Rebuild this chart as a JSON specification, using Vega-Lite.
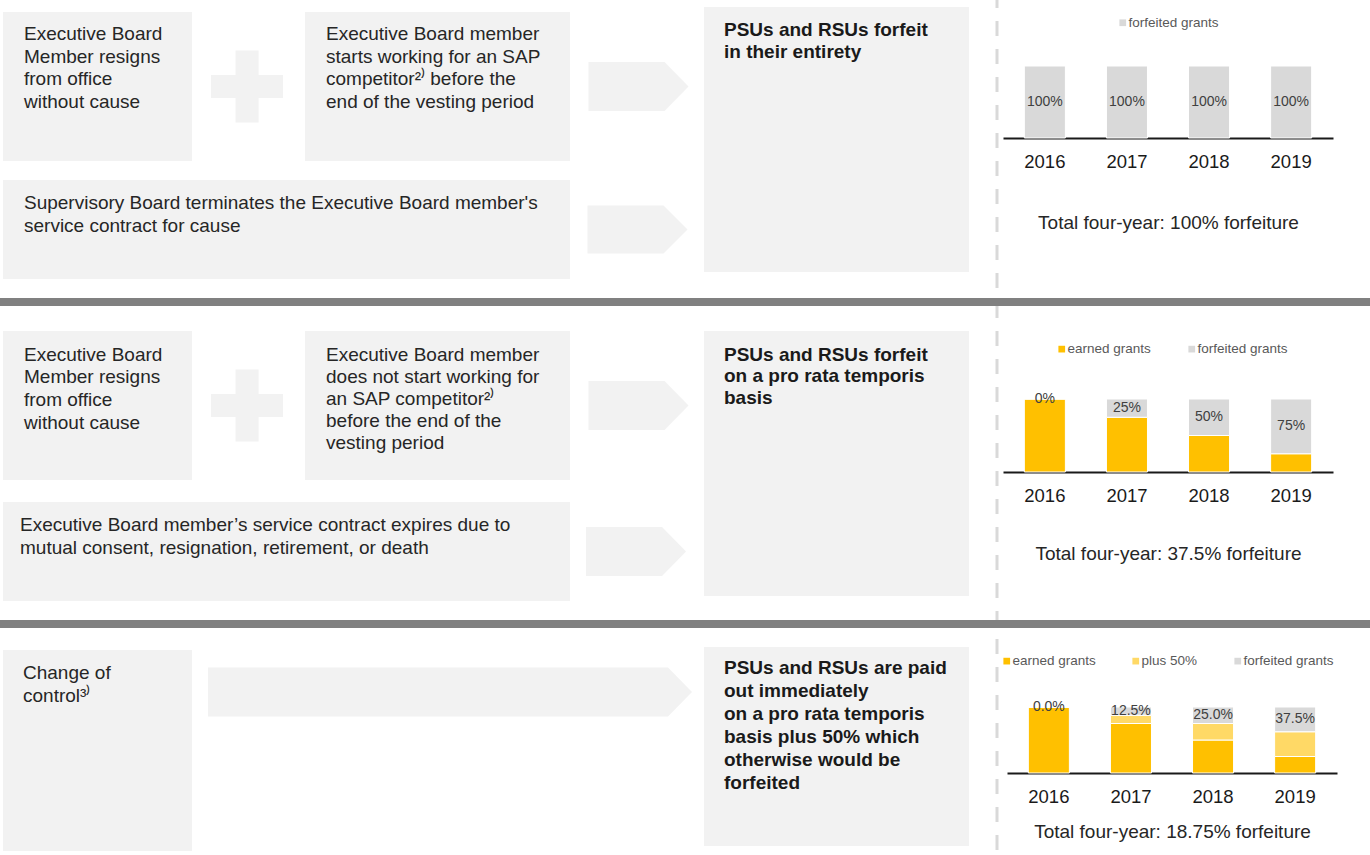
{
"$schema": "https://vega.github.io/schema/vega-lite/v6.json",
"padding": 0,
"background": "white",
"config": {"font": "Liberation Sans", "view": {"stroke": null}},
"resolve": {"scale": {"color": "independent"}, "legend": {"color": "independent"}},
"spacing": 0,
"vconcat": [
 {"hconcat": [
   {"width": 3, "height": 1, "data": {"values": [{}]}, "mark": {"type": "point", "opacity": 0, "size": 0, "strokeWidth": 0}},
   {"vconcat": [
     {"width": 1, "height": 12, "data": {"values": [{}]}, "mark": {"type": "point", "opacity": 0, "size": 0, "strokeWidth": 0}},
     {"hconcat": [
       {"width": 189, "height": 149, "view": {"fill": "#f2f2f2", "stroke": null}, "data": {"values": [{"label": "Executive Board\nMember resigns\nfrom office\nwithout cause"}]}, "mark": {"type": "text", "align": "left", "baseline": "top", "x": 21, "y": 13, "fontSize": 19, "lineHeight": 22.7, "lineBreak": "\n", "color": "#262626"}, "encoding": {"text": {"field": "label"}}},
       {"width": 113, "height": 149, "data": {"values": [{}]}, "mark": {"type": "point", "shape": "M-0.36,-1L0.28,-1L0.28,-0.32L0.96,-0.32L0.96,0.32L0.28,0.32L0.28,1L-0.36,1L-0.36,0.32L-1.04,0.32L-1.04,-0.32L-0.36,-0.32Z", "size": 5184, "filled": true, "color": "#f2f2f2", "opacity": 1, "strokeWidth": 0}},
       {"width": 265, "height": 149, "view": {"fill": "#f2f2f2", "stroke": null}, "data": {"values": [{"label": "Executive Board member\nstarts working for an SAP\ncompetitor\u00b2\u207e before the\nend of the vesting period"}]}, "mark": {"type": "text", "align": "left", "baseline": "top", "x": 21, "y": 13, "fontSize": 19, "lineHeight": 22.7, "lineBreak": "\n", "color": "#262626"}, "encoding": {"text": {"field": "label"}}},
       {"width": 134, "height": 149, "data": {"values": [{}]}, "mark": {"type": "point", "shape": "M-0.97,-0.49L0.55,-0.49L1.03,0L0.55,0.49L-0.97,0.49Z", "size": 10000, "filled": true, "color": "#f2f2f2", "opacity": 1, "strokeWidth": 0}}
     ], "spacing": 0},
     {"width": 1, "height": 19, "data": {"values": [{}]}, "mark": {"type": "point", "opacity": 0, "size": 0, "strokeWidth": 0}},
     {"hconcat": [
       {"width": 567, "height": 99, "view": {"fill": "#f2f2f2", "stroke": null}, "data": {"values": [{"label": "Supervisory Board terminates the Executive Board member's\nservice contract for cause"}]}, "mark": {"type": "text", "align": "left", "baseline": "top", "x": 21, "y": 14, "fontSize": 19, "lineHeight": 22.7, "lineBreak": "\n", "color": "#262626"}, "encoding": {"text": {"field": "label"}}},
       {"width": 134, "height": 99, "data": {"values": [{}]}, "mark": {"type": "point", "shape": "M-0.99,-0.48L0.53,-0.48L1.01,0L0.53,0.48L-0.99,0.48Z", "size": 10000, "filled": true, "color": "#f2f2f2", "opacity": 1, "strokeWidth": 0}}
     ], "spacing": 0}
   ], "spacing": 0},
   {"vconcat": [
     {"width": 1, "height": 7, "data": {"values": [{}]}, "mark": {"type": "point", "opacity": 0, "size": 0, "strokeWidth": 0}},
     {"width": 265, "height": 265, "view": {"fill": "#f2f2f2", "stroke": null}, "data": {"values": [{"label": "PSUs and RSUs forfeit\nin their entirety"}]}, "mark": {"type": "text", "align": "left", "baseline": "top", "x": 20, "y": 13.5, "fontSize": 19, "fontWeight": "bold", "lineHeight": 22, "lineBreak": "\n", "color": "#1a1a1a"}, "encoding": {"text": {"field": "label"}}}
   ], "spacing": 0},
   {"width": 25, "height": 1, "data": {"values": [{}]}, "mark": {"type": "point", "opacity": 0, "size": 0, "strokeWidth": 0}},
   {"hconcat": [
     {"width": 6, "height": 298, "data": {"values": [{}]}, "mark": {"type": "rule", "color": "#d9d9d9", "strokeWidth": 3, "strokeDash": [15, 13], "strokeDashOffset": 7, "clip": true}, "encoding": {"x": {"datum": 0.5, "type": "quantitative", "scale": {"domain": [0, 1]}, "axis": null}}},
     {"vconcat": [
       {"width": 1, "height": 66, "data": {"values": [{}]}, "mark": {"type": "point", "opacity": 0, "size": 0, "strokeWidth": 0}},
       {"width": 330, "height": 72,
        "data": {"values": [
          {"year": "2016", "grant": "forfeited grants", "share": 1, "o": 3},
          {"year": "2017", "grant": "forfeited grants", "share": 1, "o": 3},
          {"year": "2018", "grant": "forfeited grants", "share": 1, "o": 3},
          {"year": "2019", "grant": "forfeited grants", "share": 1, "o": 3}
        ]},
        "encoding": {"x": {"field": "year", "type": "ordinal", "title": "Total four-year: 100% forfeiture", "scale": {"paddingInner": 0.5, "paddingOuter": 0.26}, "axis": {"labelAngle": 0, "ticks": false, "tickSize": 0, "domainColor": "#1a1a1a", "domainWidth": 2, "labelPadding": 14.5, "labelFontSize": 18.5, "labelColor": "#1a1a1a", "titleFontSize": 19, "titleFontWeight": "normal", "titleColor": "#262626", "titlePadding": 42, "grid": false}}},
        "layer": [
          {"mark": {"type": "bar", "stroke": "#ffffff", "strokeWidth": 1},
           "encoding": {
             "y": {"field": "share", "type": "quantitative", "stack": "zero", "scale": {"domain": [0, 1]}, "axis": null},
             "color": {"field": "grant", "type": "nominal", "scale": {"domain": ["forfeited grants"], "range": ["#d9d9d9"]}, "legend": {"orient": "none", "legendX": 113, "legendY": -50, "direction": "horizontal", "title": null, "symbolType": "square", "symbolSize": 45, "symbolStrokeWidth": 0, "labelFontSize": 13.5, "labelColor": "#595959", "labelOffset": -1, "columnPadding": 34, "padding": 0}},
             "order": {"field": "o", "type": "quantitative"}
           }},
          {"transform": [{"filter": "datum.grant === 'forfeited grants'"}],
           "mark": {"type": "text", "fontSize": 14, "color": "#404040"},
           "encoding": {
             "y": {"field": "share", "type": "quantitative", "scale": {"domain": [0, 2], "reverse": true}, "axis": null},
             "text": {"field": "share", "type": "quantitative", "format": ".0%"}
           }}
        ],
        "resolve": {"scale": {"y": "independent"}}
       }
     ], "spacing": 0, "bounds": "flush", "resolve": {"scale": {"color": "independent"}, "legend": {"color": "independent"}}}
   ], "spacing": 3, "resolve": {"scale": {"color": "independent"}, "legend": {"color": "independent"}}}
 ], "spacing": 0, "resolve": {"scale": {"color": "independent"}, "legend": {"color": "independent"}}},
 {"width": 1370, "height": 8, "view": {"fill": "#808080", "stroke": null}, "data": {"values": [{}]}, "mark": {"type": "point", "opacity": 0, "size": 0, "strokeWidth": 0}},
 {"hconcat": [
   {"width": 3, "height": 1, "data": {"values": [{}]}, "mark": {"type": "point", "opacity": 0, "size": 0, "strokeWidth": 0}},
   {"vconcat": [
     {"width": 1, "height": 25, "data": {"values": [{}]}, "mark": {"type": "point", "opacity": 0, "size": 0, "strokeWidth": 0}},
     {"hconcat": [
       {"width": 189, "height": 149, "view": {"fill": "#f2f2f2", "stroke": null}, "data": {"values": [{"label": "Executive Board\nMember resigns\nfrom office\nwithout cause"}]}, "mark": {"type": "text", "align": "left", "baseline": "top", "x": 21, "y": 14.5, "fontSize": 19, "lineHeight": 22.7, "lineBreak": "\n", "color": "#262626"}, "encoding": {"text": {"field": "label"}}},
       {"width": 113, "height": 149, "data": {"values": [{}]}, "mark": {"type": "point", "shape": "M-0.36,-1L0.28,-1L0.28,-0.32L0.96,-0.32L0.96,0.32L0.28,0.32L0.28,1L-0.36,1L-0.36,0.32L-1.04,0.32L-1.04,-0.32L-0.36,-0.32Z", "size": 5184, "filled": true, "color": "#f2f2f2", "opacity": 1, "strokeWidth": 0}},
       {"width": 265, "height": 149, "view": {"fill": "#f2f2f2", "stroke": null}, "data": {"values": [{"label": "Executive Board member\ndoes not start working for\nan SAP competitor\u00b2\u207e\nbefore the end of the\nvesting period"}]}, "mark": {"type": "text", "align": "left", "baseline": "top", "x": 21, "y": 14.5, "fontSize": 19, "lineHeight": 22, "lineBreak": "\n", "color": "#262626"}, "encoding": {"text": {"field": "label"}}},
       {"width": 134, "height": 149, "data": {"values": [{}]}, "mark": {"type": "point", "shape": "M-0.97,-0.49L0.55,-0.49L1.03,0L0.55,0.49L-0.97,0.49Z", "size": 10000, "filled": true, "color": "#f2f2f2", "opacity": 1, "strokeWidth": 0}}
     ], "spacing": 0},
     {"width": 1, "height": 22, "data": {"values": [{}]}, "mark": {"type": "point", "opacity": 0, "size": 0, "strokeWidth": 0}},
     {"hconcat": [
       {"width": 567, "height": 99, "view": {"fill": "#f2f2f2", "stroke": null}, "data": {"values": [{"label": "Executive Board member\u2019s service contract expires due to\nmutual consent, resignation, retirement, or death"}]}, "mark": {"type": "text", "align": "left", "baseline": "top", "x": 17, "y": 13.5, "fontSize": 19, "lineHeight": 23, "lineBreak": "\n", "color": "#262626"}, "encoding": {"text": {"field": "label"}}},
       {"width": 134, "height": 99, "data": {"values": [{}]}, "mark": {"type": "point", "shape": "M-1.02,-0.49L0.5,-0.49L0.98,0L0.5,0.49L-1.02,0.49Z", "size": 10000, "filled": true, "color": "#f2f2f2", "opacity": 1, "strokeWidth": 0}}
     ], "spacing": 0}
   ], "spacing": 0},
   {"vconcat": [
     {"width": 1, "height": 25, "data": {"values": [{}]}, "mark": {"type": "point", "opacity": 0, "size": 0, "strokeWidth": 0}},
     {"width": 265, "height": 265, "view": {"fill": "#f2f2f2", "stroke": null}, "data": {"values": [{"label": "PSUs and RSUs forfeit\non a pro rata temporis\nbasis"}]}, "mark": {"type": "text", "align": "left", "baseline": "top", "x": 20, "y": 14.5, "fontSize": 19, "fontWeight": "bold", "lineHeight": 21.5, "lineBreak": "\n", "color": "#1a1a1a"}, "encoding": {"text": {"field": "label"}}}
   ], "spacing": 0},
   {"width": 25, "height": 1, "data": {"values": [{}]}, "mark": {"type": "point", "opacity": 0, "size": 0, "strokeWidth": 0}},
   {"hconcat": [
     {"width": 6, "height": 314, "data": {"values": [{}]}, "mark": {"type": "rule", "color": "#d9d9d9", "strokeWidth": 3, "strokeDash": [15, 13], "strokeDashOffset": 3, "clip": true}, "encoding": {"x": {"datum": 0.5, "type": "quantitative", "scale": {"domain": [0, 1]}, "axis": null}}},
     {"vconcat": [
       {"width": 1, "height": 93, "data": {"values": [{}]}, "mark": {"type": "point", "opacity": 0, "size": 0, "strokeWidth": 0}},
       {"width": 330, "height": 73,
        "data": {"values": [
          {"year": "2016", "grant": "earned grants", "share": 1, "o": 1},
          {"year": "2016", "grant": "forfeited grants", "share": 0, "o": 3},
          {"year": "2017", "grant": "earned grants", "share": 0.75, "o": 1},
          {"year": "2017", "grant": "forfeited grants", "share": 0.25, "o": 3},
          {"year": "2018", "grant": "earned grants", "share": 0.5, "o": 1},
          {"year": "2018", "grant": "forfeited grants", "share": 0.5, "o": 3},
          {"year": "2019", "grant": "earned grants", "share": 0.25, "o": 1},
          {"year": "2019", "grant": "forfeited grants", "share": 0.75, "o": 3}
        ]},
        "encoding": {"x": {"field": "year", "type": "ordinal", "title": "Total four-year: 37.5% forfeiture", "scale": {"paddingInner": 0.5, "paddingOuter": 0.26}, "axis": {"labelAngle": 0, "ticks": false, "tickSize": 0, "domainColor": "#1a1a1a", "domainWidth": 2, "labelPadding": 14.5, "labelFontSize": 18.5, "labelColor": "#1a1a1a", "titleFontSize": 19, "titleFontWeight": "normal", "titleColor": "#262626", "titlePadding": 39.5, "grid": false}}},
        "layer": [
          {"mark": {"type": "bar", "stroke": "#ffffff", "strokeWidth": 1},
           "encoding": {
             "y": {"field": "share", "type": "quantitative", "stack": "zero", "scale": {"domain": [0, 1]}, "axis": null},
             "color": {"field": "grant", "type": "nominal", "scale": {"domain": ["earned grants", "forfeited grants"], "range": ["#ffc000", "#d9d9d9"]}, "legend": {"orient": "none", "legendX": 52, "legendY": -57, "direction": "horizontal", "title": null, "symbolType": "square", "symbolSize": 45, "symbolStrokeWidth": 0, "labelFontSize": 13.5, "labelColor": "#595959", "labelOffset": -1, "columnPadding": 34, "padding": 0}},
             "order": {"field": "o", "type": "quantitative"}
           }},
          {"transform": [{"filter": "datum.grant === 'forfeited grants'"}],
           "mark": {"type": "text", "fontSize": 14, "color": "#404040"},
           "encoding": {
             "y": {"field": "share", "type": "quantitative", "scale": {"domain": [0, 2], "reverse": true}, "axis": null},
             "text": {"field": "share", "type": "quantitative", "format": ".0%"}
           }}
        ],
        "resolve": {"scale": {"y": "independent"}}
       }
     ], "spacing": 0, "bounds": "flush", "resolve": {"scale": {"color": "independent"}, "legend": {"color": "independent"}}}
   ], "spacing": 3, "resolve": {"scale": {"color": "independent"}, "legend": {"color": "independent"}}}
 ], "spacing": 0, "resolve": {"scale": {"color": "independent"}, "legend": {"color": "independent"}}},
 {"width": 1370, "height": 8, "view": {"fill": "#808080", "stroke": null}, "data": {"values": [{}]}, "mark": {"type": "point", "opacity": 0, "size": 0, "strokeWidth": 0}},
 {"hconcat": [
   {"width": 3, "height": 1, "data": {"values": [{}]}, "mark": {"type": "point", "opacity": 0, "size": 0, "strokeWidth": 0}},
   {"vconcat": [
     {"width": 1, "height": 22, "data": {"values": [{}]}, "mark": {"type": "point", "opacity": 0, "size": 0, "strokeWidth": 0}},
     {"width": 189, "height": 201, "view": {"fill": "#f2f2f2", "stroke": null}, "data": {"values": [{"label": "Change of\ncontrol\u00b3\u207e"}]}, "mark": {"type": "text", "align": "left", "baseline": "top", "x": 20, "y": 14, "fontSize": 19, "lineHeight": 23, "lineBreak": "\n", "color": "#262626"}, "encoding": {"text": {"field": "label"}}}
   ], "spacing": 0},
   {"width": 512, "height": 128, "data": {"values": [{}]}, "mark": {"type": "point", "shape": "M-0.96,-0.098L0.88,-0.098L0.976,0L0.88,0.098L-0.96,0.098Z", "size": 250000, "filled": true, "color": "#f2f2f2", "opacity": 1, "strokeWidth": 0}},
   {"vconcat": [
     {"width": 1, "height": 19, "data": {"values": [{}]}, "mark": {"type": "point", "opacity": 0, "size": 0, "strokeWidth": 0}},
     {"width": 265, "height": 199, "view": {"fill": "#f2f2f2", "stroke": null}, "data": {"values": [{"label": "PSUs and RSUs are paid\nout immediately\non a pro rata temporis\nbasis plus 50% which\notherwise would be\nforfeited"}]}, "mark": {"type": "text", "align": "left", "baseline": "top", "x": 20, "y": 12, "fontSize": 19, "fontWeight": "bold", "lineHeight": 23, "lineBreak": "\n", "color": "#1a1a1a"}, "encoding": {"text": {"field": "label"}}}
   ], "spacing": 0},
   {"width": 25, "height": 1, "data": {"values": [{}]}, "mark": {"type": "point", "opacity": 0, "size": 0, "strokeWidth": 0}},
   {"hconcat": [
     {"width": 6, "height": 227, "data": {"values": [{}]}, "mark": {"type": "rule", "color": "#d9d9d9", "strokeWidth": 3, "strokeDash": [15, 13], "strokeDashOffset": 17, "clip": true}, "encoding": {"x": {"datum": 0.5, "type": "quantitative", "scale": {"domain": [0, 1]}, "axis": null}}},
     {"vconcat": [
       {"width": 1, "height": 79, "data": {"values": [{}]}, "mark": {"type": "point", "opacity": 0, "size": 0, "strokeWidth": 0}},
       {"width": 330, "height": 66,
        "data": {"values": [
          {"year": "2016", "grant": "earned grants", "share": 1, "o": 1},
          {"year": "2016", "grant": "plus 50%", "share": 0, "o": 2},
          {"year": "2016", "grant": "forfeited grants", "share": 0, "o": 3},
          {"year": "2017", "grant": "earned grants", "share": 0.75, "o": 1},
          {"year": "2017", "grant": "plus 50%", "share": 0.125, "o": 2},
          {"year": "2017", "grant": "forfeited grants", "share": 0.125, "o": 3},
          {"year": "2018", "grant": "earned grants", "share": 0.5, "o": 1},
          {"year": "2018", "grant": "plus 50%", "share": 0.25, "o": 2},
          {"year": "2018", "grant": "forfeited grants", "share": 0.25, "o": 3},
          {"year": "2019", "grant": "earned grants", "share": 0.25, "o": 1},
          {"year": "2019", "grant": "plus 50%", "share": 0.375, "o": 2},
          {"year": "2019", "grant": "forfeited grants", "share": 0.375, "o": 3}
        ]},
        "encoding": {"x": {"field": "year", "type": "ordinal", "title": "Total four-year: 18.75% forfeiture", "scale": {"paddingInner": 0.5, "paddingOuter": 0.26}, "axis": {"labelAngle": 0, "ticks": false, "tickSize": 0, "domainColor": "#1a1a1a", "domainWidth": 2, "labelPadding": 14.5, "labelFontSize": 18.5, "labelColor": "#1a1a1a", "titleFontSize": 19, "titleFontWeight": "normal", "titleColor": "#262626", "titlePadding": 16.5, "grid": false}}},
        "layer": [
          {"mark": {"type": "bar", "stroke": "#ffffff", "strokeWidth": 1},
           "encoding": {
             "y": {"field": "share", "type": "quantitative", "stack": "zero", "scale": {"domain": [0, 1]}, "axis": null},
             "color": {"field": "grant", "type": "nominal", "scale": {"domain": ["earned grants", "plus 50%", "forfeited grants"], "range": ["#ffc000", "#ffd966", "#d9d9d9"]}, "legend": {"orient": "none", "legendX": -7, "legendY": -53, "direction": "horizontal", "title": null, "symbolType": "square", "symbolSize": 45, "symbolStrokeWidth": 0, "labelFontSize": 13.5, "labelColor": "#595959", "labelOffset": -1, "columnPadding": 33, "padding": 0}},
             "order": {"field": "o", "type": "quantitative"}
           }},
          {"transform": [{"filter": "datum.grant === 'forfeited grants'"}],
           "mark": {"type": "text", "fontSize": 14, "color": "#404040"},
           "encoding": {
             "y": {"field": "share", "type": "quantitative", "scale": {"domain": [0, 2], "reverse": true}, "axis": null},
             "text": {"field": "share", "type": "quantitative", "format": ".1%"}
           }}
        ],
        "resolve": {"scale": {"y": "independent"}}
       }
     ], "spacing": 0, "bounds": "flush", "resolve": {"scale": {"color": "independent"}, "legend": {"color": "independent"}}}
   ], "spacing": 0, "resolve": {"scale": {"color": "independent"}, "legend": {"color": "independent"}}}
 ], "spacing": 0, "resolve": {"scale": {"color": "independent"}, "legend": {"color": "independent"}}}
]
}
